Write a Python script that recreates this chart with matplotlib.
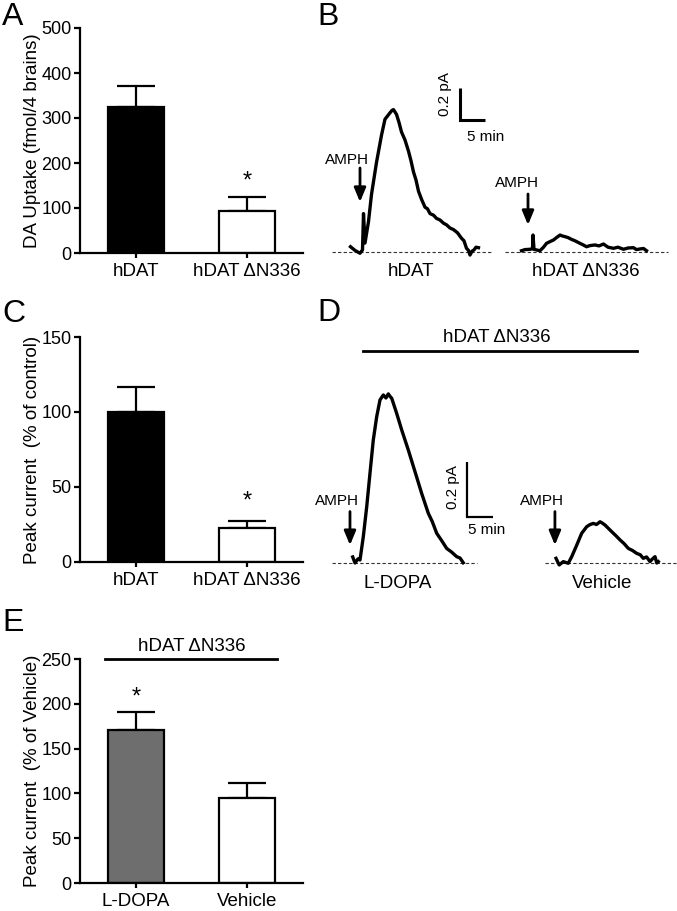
import matplotlib
matplotlib.use("Agg")
from matplotlib import pyplot as plt
from matplotlib.lines import Line2D

plt.rcParams["font.family"] = ["Liberation Sans", "DejaVu Sans"]

# ---- bar data ----
groups_ac = ["hDAT", "hDAT \u0394N336"]
uptake = [324, 93]
uptake_err = [47, 32]
peak_ctrl = [100, 22.6]
peak_ctrl_err = [17, 5]
groups_e = ["L-DOPA", "Vehicle"]
peak_veh = [171, 95]
peak_veh_err = [20, 17]

# ---- traces (time in min, current in pA) ----
hdat_t = [4.1, 5.0, 6.0, 6.5, 6.7, 7.0, 7.7, 8.3, 9.3, 10.3, 11.0, 11.5, 12.0, 12.4, 12.7,
          13.0, 13.3, 13.8, 14.3, 15.0, 15.7, 16.2, 16.7, 17.2, 17.7, 18.3, 19.0, 19.5, 20.0,
          20.7, 21.3, 22.0, 22.7, 23.3, 24.0, 24.7, 25.5, 26.3, 26.8, 27.3, 27.7, 28.0, 28.4,
          28.8, 29.2, 29.7]
hdat_i = [0.033, 0.010, -0.008, 0.013, 0.24, 0.056, 0.19, 0.36, 0.56, 0.73, 0.83, 0.85, 0.87,
          0.885, 0.89, 0.875, 0.86, 0.81, 0.75, 0.70, 0.63, 0.57, 0.50, 0.45, 0.38, 0.33, 0.28,
          0.27, 0.24, 0.23, 0.21, 0.20, 0.18, 0.17, 0.15, 0.14, 0.12, 0.086, 0.07, 0.023, 0.01,
          -0.019, 0.005, 0.013, 0.03, 0.027]
dn_t = [38.3, 39.0, 40.0, 40.5, 40.6, 40.8, 41.4, 42.0, 42.7, 43.3, 44.0, 44.7, 45.3, 46.0,
        46.5, 47.0, 47.6, 48.3, 49.0, 50.0, 50.6, 51.3, 52.0, 53.0, 53.8, 54.7, 55.6, 56.7,
        57.6, 58.7, 59.6, 60.7, 61.3, 62.0, 62.7, 63.3]
dn_i = [0.008, 0.015, 0.017, 0.02, 0.106, 0.017, 0.012, 0.008, 0.03, 0.054, 0.065, 0.075,
        0.09, 0.106, 0.10, 0.096, 0.09, 0.079, 0.07, 0.054, 0.045, 0.033, 0.04, 0.044, 0.038,
        0.05, 0.03, 0.023, 0.03, 0.017, 0.025, 0.027, 0.015, 0.019, 0.022, 0.008]
ld_t = [4.26, 4.69, 5.25, 5.63, 6.25, 6.89, 7.50, 8.12, 8.76, 9.38, 10.0, 10.5, 10.94, 11.3,
        11.58, 12.51, 13.45, 14.69, 15.95, 17.2, 18.44, 19.2, 20.02, 21.0, 21.89, 22.8, 23.77,
        24.4, 25.0]
ld_i = [0.022, 0.0, 0.015, 0.011, 0.096, 0.205, 0.326, 0.447, 0.532, 0.593, 0.611, 0.60,
        0.615, 0.605, 0.599, 0.544, 0.484, 0.411, 0.332, 0.253, 0.181, 0.15, 0.108, 0.08,
        0.053, 0.04, 0.023, 0.018, 0.001]
vh_t = [42.4, 43.0, 43.77, 44.7, 45.35, 46.29, 47.22, 48.16, 48.8, 49.4, 50.0, 50.66, 51.1,
        51.6, 52.85, 53.6, 54.41, 55.2, 55.97, 56.8, 57.54, 58.2, 58.78, 59.4, 60.04, 60.5,
        60.98, 61.3, 61.6]
vh_i = [0.017, -0.007, 0.005, -0.001, 0.023, 0.065, 0.108, 0.132, 0.14, 0.144, 0.14, 0.150,
        0.145, 0.138, 0.114, 0.10, 0.084, 0.07, 0.053, 0.045, 0.035, 0.03, 0.017, 0.022,
        0.005, 0.015, 0.023, 0.0, 0.005]

W, H = 677, 911
fig = plt.figure(figsize=(W / 100, H / 100), dpi=100)


def px_axes(x0, y0, x1, y1):
    return fig.add_axes([x0 / W, 1 - y1 / H, (x1 - x0) / W, (y1 - y0) / H])


def fx(x):
    return x / W


def fy(y):
    return 1 - y / H


def bar_panel(ax, labels, vals, errs, colors, ymax, step, ylabel):
    x = range(len(vals))
    ax.bar(x, vals, width=0.5, color=colors, edgecolor="black", linewidth=1.6, zorder=2)
    ax.errorbar(x, vals, yerr=[[0] * len(vals), errs], fmt="none", ecolor="black",
                elinewidth=1.6, capsize=14, capthick=1.6, zorder=1)
    ax.set_xlim(-0.5, 1.5)
    ax.set_ylim(0, ymax)
    ax.set_yticks(range(0, ymax + 1, step))
    ax.set_xticks(list(x))
    ax.set_xticklabels(labels, fontsize=13.5)
    ax.tick_params(axis="y", labelsize=13, length=4.5, width=1.6, pad=1.5)
    ax.tick_params(axis="x", length=3.5, width=1.6, pad=4)
    for s in ["top", "right"]:
        ax.spines[s].set_visible(False)
    for s in ["left", "bottom"]:
        ax.spines[s].set_linewidth(1.6)
    ax.set_ylabel(ylabel, fontsize=13.5)
    ax.yaxis.set_label_coords(-0.175, 0.5)


def amph(ax, tx, ty, ax_x, y0, y1):
    ax.text(tx, ty, "AMPH", fontsize=11, ha="center", va="center")
    ax.annotate("", xy=(ax_x, y1), xytext=(ax_x, y0),
                arrowprops=dict(arrowstyle="-|>,head_width=0.25,head_length=0.6",
                                lw=2, color="black", mutation_scale=14, shrinkA=0, shrinkB=0))


# ---- A ----
axA = px_axes(80, 28, 303, 253)
bar_panel(axA, groups_ac, uptake, uptake_err, ["black", "white"], 500, 100,
          "DA Uptake (fmol/4 brains)")
axA.text(1, 145, "*", fontsize=17, ha="center", va="baseline")

# ---- C ----
axC = px_axes(80, 337, 303, 562)
bar_panel(axC, groups_ac, peak_ctrl, peak_ctrl_err, ["black", "white"], 150, 50,
          "Peak current  (% of control)")
axC.text(1, 36.4, "*", fontsize=17, ha="center", va="baseline")

# ---- E ----
axE = px_axes(80, 659, 303, 883)
bar_panel(axE, groups_e, peak_veh, peak_veh_err, ["#6e6e6e", "white"], 250, 50,
          "Peak current  (% of Vehicle)")
axE.text(0, 200, "*", fontsize=17, ha="center", va="baseline")
axE.plot([-0.274, 1.269], [250, 250], color="black", lw=2, clip_on=False)
axE.text(0.5, 264, "hDAT \u0394N336", fontsize=13.5, ha="center", va="center")

# ---- B ----
axB = px_axes(330, 80, 677, 262)
axB.set_xlim(0, 347 / 5)
axB.set_ylim(-10 / 160, 172 / 160)
axB.axis("off")
axB.plot([0.4, 32.6], [0, 0], color="#333333", lw=0.8, ls=(0, (3, 2)))
axB.plot([35, 67.6], [0, 0], color="#333333", lw=0.8, ls=(0, (3, 2)))
axB.plot(hdat_t, hdat_i, color="black", lw=2.4)
axB.plot(dn_t, dn_i, color="black", lw=2.4)
axB.plot([25.9, 25.9, 30.9], [1.025, 0.825, 0.825], color="black", lw=2.2,
         solid_joinstyle="miter", solid_capstyle="butt")
axB.text(24.4, 0.99, "0.2 pA", fontsize=11, rotation=90, ha="right", va="center")
axB.text(31.2, 0.72, "5 min", fontsize=11, ha="center", va="center")
amph(axB, 3.4, 0.575, 6.0, 0.525, 0.3125)
amph(axB, 37.4, 0.431, 39.6, 0.3625, 0.169)
axB.text(16.2, -0.125, "hDAT", fontsize=13.5, ha="center", va="center")
axB.text(51.2, -0.125, "hDAT \u0394N336", fontsize=13.5, ha="center", va="center")

# ---- D ----
axD = px_axes(330, 370, 677, 575)
axD.set_xlim(0, 347 / 5.33)
axD.set_ylim(-12 / 275, 193 / 275)
axD.axis("off")
axD.plot([0.38, 27.6], [0, 0], color="#333333", lw=0.8, ls=(0, (3, 2)))
axD.plot([40.3, 65.1], [0, 0], color="#333333", lw=0.8, ls=(0, (3, 2)))
axD.plot(ld_t, ld_i, color="black", lw=2.4)
axD.plot(vh_t, vh_i, color="black", lw=2.4)
axD.plot([25.65, 25.65, 30.65], [0.368, 0.168, 0.168], color="black", lw=1.6,
         solid_joinstyle="miter", solid_capstyle="butt")
axD.text(24.4, 0.276, "0.2 pA", fontsize=11, rotation=90, ha="right", va="center")
axD.text(29.4, 0.12, "5 min", fontsize=11, ha="center", va="center")
amph(axD, 1.3, 0.225, 3.75, 0.187, 0.065)
amph(axD, 39.8, 0.225, 42.2, 0.187, 0.065)
axD.text(12.76, -0.073, "L-DOPA", fontsize=13.5, ha="center", va="center")
axD.text(51.0, -0.073, "Vehicle", fontsize=13.5, ha="center", va="center")
fig.add_artist(Line2D([fx(363), fx(637)], [fy(351), fy(351)], color="black", lw=2))
fig.text(fx(497), fy(337), "hDAT \u0394N336", fontsize=13.5, ha="center", va="center")

# ---- panel letters ----
for letter, x, y in [("A", 2, 2), ("B", 317, 2), ("C", 2, 299), ("D", 317, 298), ("E", 2, 608)]:
    fig.text(fx(x), fy(y), letter, fontsize=23, ha="left", va="top")

fig.savefig("out.png", dpi=100)
